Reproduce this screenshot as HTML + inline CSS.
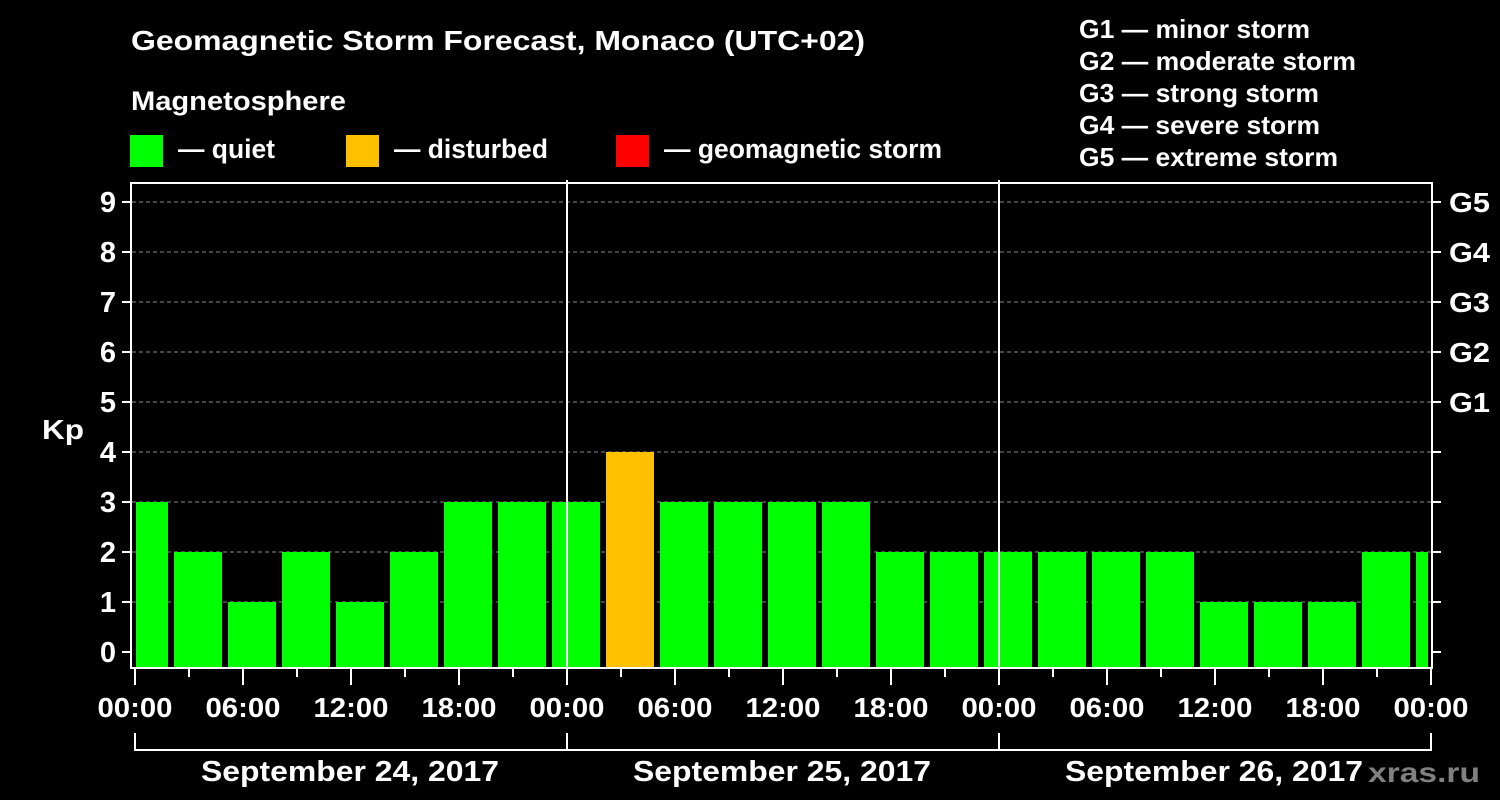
<!DOCTYPE html>
<html><head><meta charset="utf-8"><style>
body{margin:0;background:#000;width:1500px;height:800px;overflow:hidden}
svg{display:block;font-family:"Liberation Sans",Arial,sans-serif;font-weight:bold}
</style></head><body>
<svg id="c" width="1500" height="800">
<text x="131" y="50" fill="#fff" font-size="28" textLength="734" lengthAdjust="spacingAndGlyphs">Geomagnetic Storm Forecast, Monaco (UTC+02)</text>
<text x="131" y="110" fill="#fff" font-size="27" textLength="215" lengthAdjust="spacingAndGlyphs">Magnetosphere</text>
<rect x="130" y="135" width="33" height="32" fill="#00ff00"/>
<text x="178" y="158" fill="#fff" font-size="27" textLength="97" lengthAdjust="spacingAndGlyphs">— quiet</text>
<rect x="346" y="135" width="33" height="32" fill="#ffc000"/>
<text x="394" y="158" fill="#fff" font-size="27" textLength="154" lengthAdjust="spacingAndGlyphs">— disturbed</text>
<rect x="616" y="135" width="33" height="32" fill="#ff0000"/>
<text x="664" y="158" fill="#fff" font-size="27" textLength="278" lengthAdjust="spacingAndGlyphs">— geomagnetic storm</text>
<g fill="#fff" font-size="26">
<text x="1079" y="38" textLength="231" lengthAdjust="spacingAndGlyphs">G1 — minor storm</text>
<text x="1079" y="70" textLength="277" lengthAdjust="spacingAndGlyphs">G2 — moderate storm</text>
<text x="1079" y="102" textLength="240" lengthAdjust="spacingAndGlyphs">G3 — strong storm</text>
<text x="1079" y="134" textLength="241" lengthAdjust="spacingAndGlyphs">G4 — severe storm</text>
<text x="1079" y="166" textLength="259" lengthAdjust="spacingAndGlyphs">G5 — extreme storm</text>
</g>
<text x="42" y="439" fill="#fff" font-size="28" textLength="42" lengthAdjust="spacingAndGlyphs">Kp</text>
<text x="1368" y="782" fill="#808080" font-size="28" textLength="112" lengthAdjust="spacingAndGlyphs">xras.ru</text>
<g id="plot"></g>
</svg>
<script>
const kpValues=[3,2,1,2,1,2,3,3,3,4,3,3,3,3,2,2,2,2,2,2,1,1,1,2,2];
const yTicks=[0,1,2,3,4,5,6,7,8,9];
const gLabels=["G1","G2","G3","G4","G5"];
const xTickLabels=["00:00","06:00","12:00","18:00","00:00","06:00","12:00","18:00","00:00","06:00","12:00","18:00","00:00"];
const dayLabels=["September 24, 2017","September 25, 2017","September 26, 2017"];
const NS="http://www.w3.org/2000/svg";
const g=document.getElementById('plot');
const X=h=>135+h*18, Y=v=>652-v*50;
function el(t,a,txt){const e=document.createElementNS(NS,t);for(const k in a)e.setAttribute(k,a[k]);if(txt!=null)e.textContent=txt;g.appendChild(e);return e;}
yTicks.forEach(v=>{if(v>0){const l=el('line',{x1:132,x2:1431,y1:Y(v),y2:Y(v),stroke:'#888','stroke-dasharray':'4,3','stroke-width':1});

}
const t=el('line',{x1:122,x2:131,y1:Y(v),y2:Y(v),stroke:'#fff','stroke-width':2});


const t2=el('line',{x1:1432,x2:1441,y1:Y(v),y2:Y(v),stroke:'#fff','stroke-width':2});


const lb=el('text',{x:116,y:Y(v)+10,fill:'#fff','font-size':29,'text-anchor':'end'},String(v));


});
gLabels.forEach((s,i)=>{const t=el('text',{x:1449,y:Y(5+i)+10,fill:'#fff','font-size':28,textLength:41,lengthAdjust:'spacingAndGlyphs'},s);

});
kpValues.forEach((v,i)=>{const h0=Math.max(0,-1+3*i),h1=Math.min(72,2+3*i);
let x0=X(h0)+3,x1=X(h1)-3; if(h0===0)x0=X(0)+1;
const c=v>=5?'#ff0000':(v>=4?'#ffc000':'#00ff00');
const r=el('rect',{x:x0,y:Y(v),width:x1-x0,height:668-Y(v),fill:c});

});
const f=el('rect',{x:131,y:183,width:1301,height:485,fill:'none',stroke:'#fff','stroke-width':2});


[24,48].forEach(h=>{const l=el('line',{x1:X(h),x2:X(h),y1:180,y2:668,stroke:'#fff','stroke-width':2});

});
for(let h=0;h<=72;h+=3){const long=h%6===0;const l=el('line',{x1:X(h),x2:X(h),y1:669,y2:long?685:677,stroke:'#fff','stroke-width':2});

}
xTickLabels.forEach((s,i)=>{const t=el('text',{x:X(i*6),y:717,fill:'#fff','font-size':28,'text-anchor':'middle',textLength:75,lengthAdjust:'spacingAndGlyphs'},s);

});
const b=el('path',{d:`M${X(0)} 733V750H${X(72)}V733M${X(24)} 733V750M${X(48)} 733V750`,fill:'none',stroke:'#fff','stroke-width':2});


dayLabels.forEach((s,i)=>{const t=el('text',{x:X(i*24+12)-1,y:781,fill:'#fff','font-size':29,'text-anchor':'middle',textLength:298,lengthAdjust:'spacingAndGlyphs'},s);

});
</script>
</body></html>
